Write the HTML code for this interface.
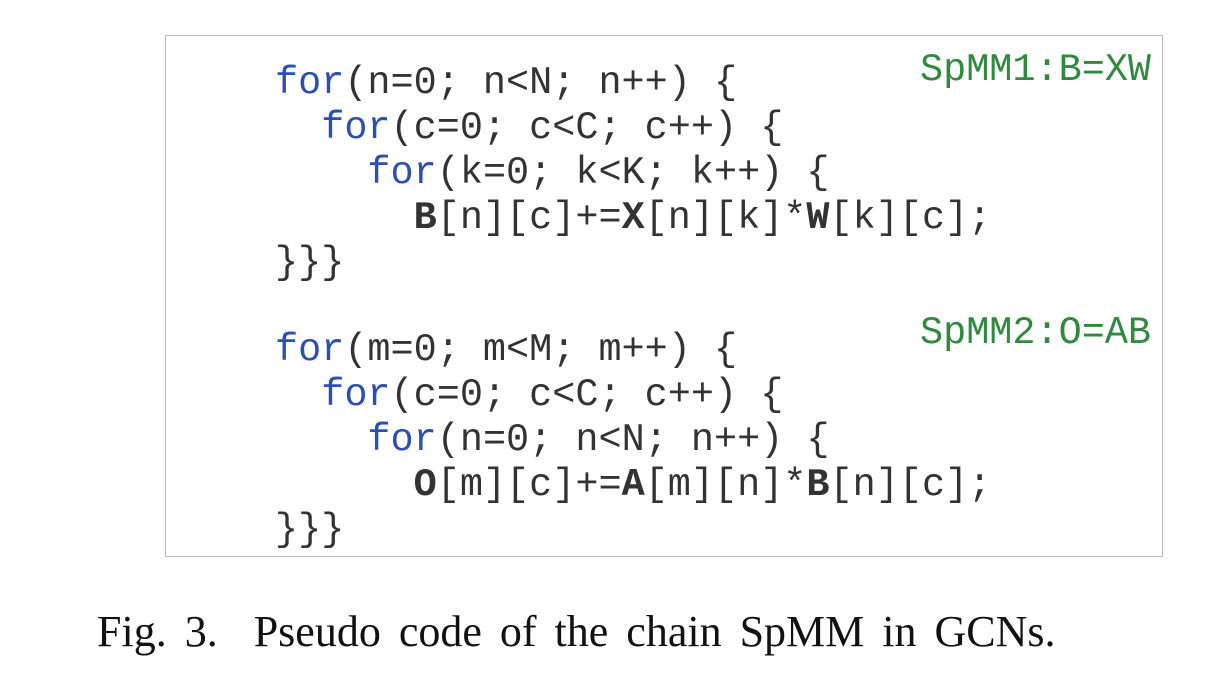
<!DOCTYPE html>
<html><head><meta charset="utf-8"><style>
body{margin:0;width:1227px;height:680px;background:#fff;position:relative;overflow:hidden}
#box{position:absolute;left:165px;top:35px;width:998px;height:522px;border:1.5px solid #b8b8b8;box-sizing:border-box}
.code{position:absolute;left:275px;font-family:"Liberation Mono",monospace;font-size:38.5px;line-height:45px;color:#333;white-space:pre;margin:0}
.k{color:#2b4fb3}
.lbl{position:absolute;font-family:"Liberation Mono",monospace;font-size:38.5px;line-height:45px;color:#2e8b3e;white-space:pre}
#cap{position:absolute;left:97px;top:606px;font-family:"Liberation Serif",serif;font-size:44px;word-spacing:7px;color:#111;white-space:pre}
</style></head><body>
<div id="box"></div>
<pre class="code" style="top:61px"><span class="k">for</span>(n=0; n&lt;N; n++) {
  <span class="k">for</span>(c=0; c&lt;C; c++) {
    <span class="k">for</span>(k=0; k&lt;K; k++) {
      <b>B</b>[n][c]+=<b>X</b>[n][k]*<b>W</b>[k][c];
}}}</pre>
<pre class="code" style="top:328px"><span class="k">for</span>(m=0; m&lt;M; m++) {
  <span class="k">for</span>(c=0; c&lt;C; c++) {
    <span class="k">for</span>(n=0; n&lt;N; n++) {
      <b>O</b>[m][c]+=<b>A</b>[m][n]*<b>B</b>[n][c];
}}}</pre>
<div class="lbl" style="left:920px;top:48px">SpMM1:B=XW</div>
<div class="lbl" style="left:920px;top:311px">SpMM2:O=AB</div>
<div id="cap">Fig. 3.  Pseudo code of the chain SpMM in GCNs.</div>
</body></html>
